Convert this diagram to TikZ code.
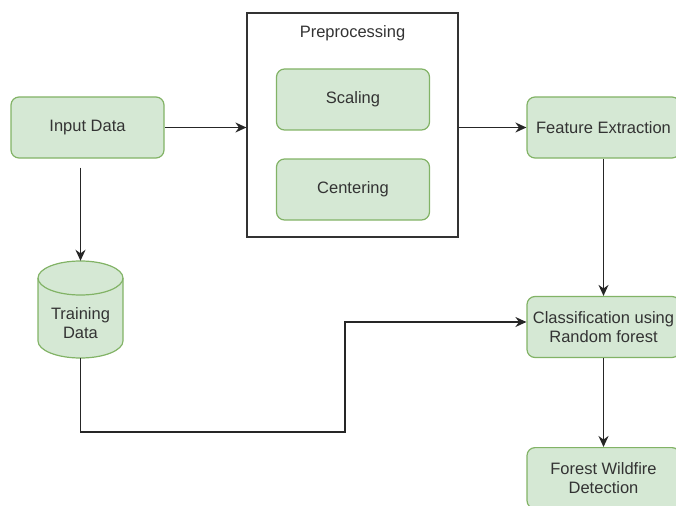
\documentclass[tikz,border=0pt]{standalone}
\usepackage{fontspec}
\setmainfont{Liberation Sans}
\usepackage{xcolor}
\usetikzlibrary{arrows.meta}
\definecolor{boxfill}{HTML}{D5E8D4}
\definecolor{boxline}{HTML}{82B366}
\definecolor{txt}{HTML}{333333}
\begin{document}
\begin{tikzpicture}[x=1pt,y=-1pt]
\tikzstyle{every node}+=[inner sep=0pt, text=txt, font=\fontsize{16.5}{19.5}\selectfont, align=center]
\tikzstyle{greenbox}=[draw=boxline, fill=boxfill, line width=1.2pt, rounded corners=8pt, minimum width=153pt, minimum height=61pt]
\tikzstyle{flow}=[draw=black!85, line width=1.6pt, -{Stealth[length=11pt,width=10pt]}]
\clip (0,0) rectangle (676,505);
\node [draw=black!80, line width=1.2pt, minimum width=211pt, minimum height=224pt] (prep) at (352.5,125) {};
\node (preptitle) at (352.5,33) {Preprocessing};
\node [greenbox] (scaling) at (353,99.5) {Scaling};
\node [greenbox] (centering) at (353,189.5) {Centering};
\node [greenbox] (input) at (87.5,127.5) {Input Data};
\node [greenbox] (feature) at (603.5,127.5) {Feature Extraction};
\node [greenbox] (classif) at (603.5,327) {Classification using\\Random forest};
\node [greenbox, anchor=north] (detect) at (603.5,447) {Forest Wildfire\\Detection};
% training data store
\node [minimum width=85pt, minimum height=97pt] (train) at (80.5,309.5) {};
\draw [draw=boxline, fill=boxfill, line width=1.2pt] (38,278) -- (38,341) arc [start angle=180, end angle=360, x radius=42.5pt, y radius=17pt] -- (123,278) arc [start angle=0, end angle=180, x radius=42.5pt, y radius=17pt] -- cycle;
\draw [draw=boxline, line width=1.2pt] (38,278) arc [start angle=180, end angle=360, x radius=42.5pt, y radius=17pt];
\node (trainlabel) at (80.5,323) {Training\\Data};
\coordinate (bend) at (345,432);
\draw [flow] (input.east) -- (input.east -| prep.west);
\draw [flow] (prep.east |- feature.west) -- (feature.west);
\draw [flow, shorten <=9pt] (train.north |- input.south) -- (train.north);
\draw [flow] (feature.south) -- (classif.north);
\draw [flow] (classif.south) -- (detect.north);
\draw [flow] (train.south) |- (bend) |- ([yshift=5pt]classif.west);
\end{tikzpicture}
\end{document}
